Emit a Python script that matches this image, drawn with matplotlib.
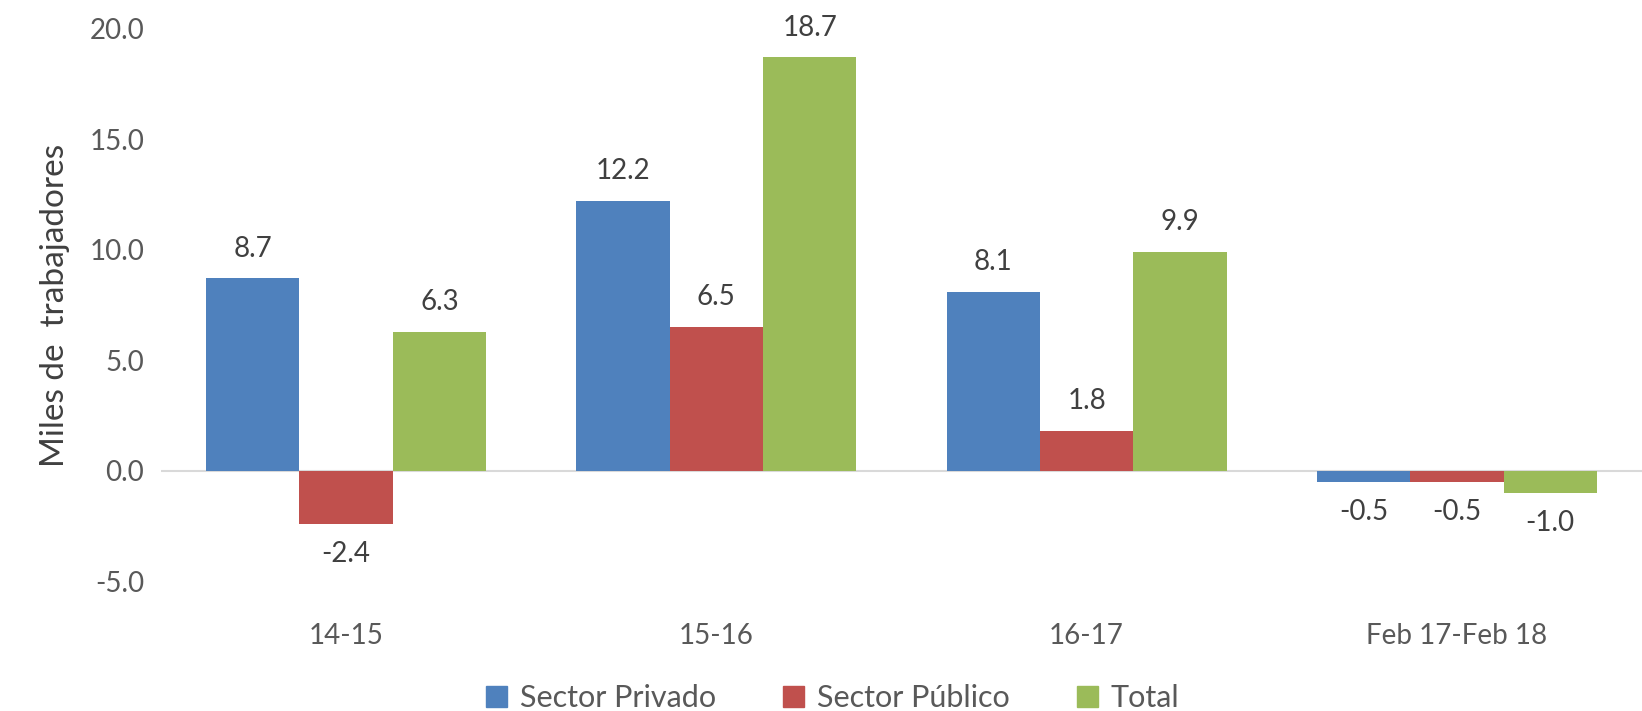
import matplotlib
matplotlib.use("Agg")
import matplotlib.pyplot as plt
import numpy as np
from matplotlib.patches import Patch

categories = ["14-15", "15-16", "16-17", "Feb 17-Feb 18"]
series_names = ["Sector Privado", "Sector Público", "Total"]
privado = [8.7, 12.2, 8.1, -0.5]
publico = [-2.4, 6.5, 1.8, -0.5]
total = [6.3, 18.7, 9.9, -1.0]
yticks = [-5.0, 0.0, 5.0, 10.0, 15.0, 20.0]

colors = ["#4F81BD", "#C0504D", "#9BBB59"]
plt.rcParams["font.family"] = ["Lato", "DejaVu Sans"]

fig = plt.figure(figsize=(16.42, 7.11), dpi=100)
ax = fig.add_axes([0.098, 0.182, 0.902, 0.778])

x = np.arange(len(categories))
w = 0.252
for i, (vals, c) in enumerate(zip([privado, publico, total], colors)):
    pos = x + (i - 1) * w
    ax.bar(pos, vals, w, color=c, zorder=2)
    for xp, v in zip(pos, vals):
        if v >= 0:
            ax.annotate(f"{v:.1f}", (xp, v), xytext=(0, 12), textcoords="offset points",
                        ha="center", va="bottom", fontsize=20, color="#404040")
        else:
            ax.annotate(f"{v:.1f}", (xp, v), xytext=(0, -12), textcoords="offset points",
                        ha="center", va="top", fontsize=20, color="#404040")

ax.axhline(0, color="#D9D9D9", lw=1.5, zorder=1)
ax.set_ylim(-5, 20)
ax.set_xlim(-0.5, 3.5)
ax.set_yticks(yticks)
ax.set_yticklabels([f"{t:.1f}" for t in yticks], fontsize=20, color="#595959")
ax.set_xticks(x)
ax.set_xticklabels(categories, fontsize=20, color="#595959")
ax.tick_params(length=0, pad=12)
ax.tick_params(axis="x", pad=30)
for s in ax.spines.values():
    s.set_visible(False)
ax.set_ylabel("Miles de  trabajadores", fontsize=24, color="#404040", labelpad=14)

handles = [Patch(color=c, label=n) for c, n in zip(colors, series_names)]
fig.legend(handles=handles, loc="lower center", bbox_to_anchor=(0.507, -0.04), ncol=3,
           frameon=False, fontsize=22, labelcolor="#595959", handlelength=0.7,
           handleheight=0.7, columnspacing=2.2, handletextpad=0.4)

fig.savefig("out.png", dpi=100)
